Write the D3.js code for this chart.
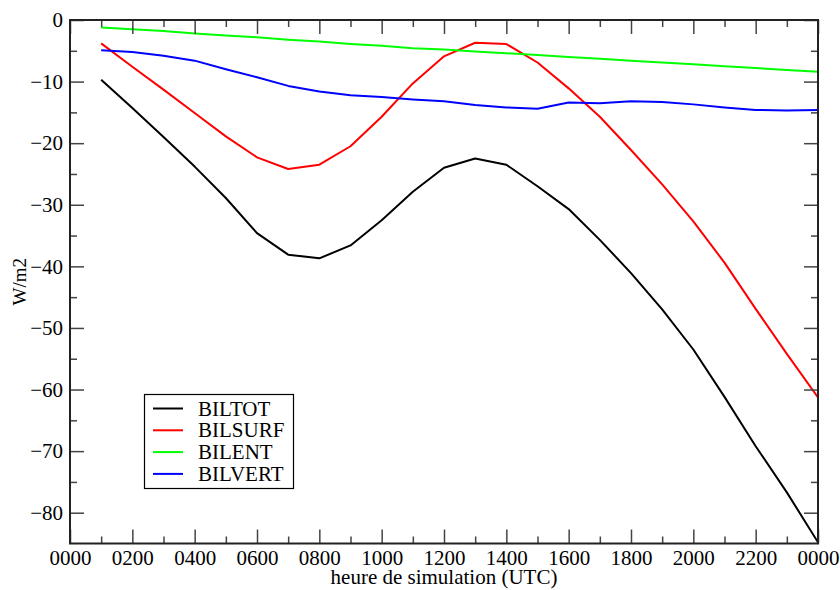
<!DOCTYPE html>
<html><head><meta charset="utf-8">
<script src="https://cdn.jsdelivr.net/npm/d3@7"></script>
<style>body{margin:0;background:#fff}svg{display:block}text{font-family:"Liberation Serif","Times New Roman",serif}</style>
</head><body><svg id="c" width="840" height="590"></svg>
<script>
const hours = [1,2,3,4,5,6,7,8,9,10,11,12,13,14,15,16,17,18,19,20,21,22,23,24];
const BILTOT = [-9.7,-14.3,-19.0,-23.8,-28.9,-34.6,-38.1,-38.7,-36.6,-32.5,-27.9,-24.0,-22.5,-23.5,-27.0,-30.7,-35.7,-41.1,-47.0,-53.5,-61.2,-69.2,-76.7,-84.8];
const BILSURF = [-3.8,-7.6,-11.3,-15.1,-18.9,-22.3,-24.2,-23.5,-20.5,-15.7,-10.3,-5.9,-3.7,-3.9,-6.9,-11.1,-15.7,-21.1,-26.7,-32.7,-39.4,-46.9,-54.2,-61.3];
const BILENT = [-1.2,-1.5,-1.8,-2.2,-2.5,-2.8,-3.2,-3.5,-3.9,-4.2,-4.6,-4.8,-5.1,-5.4,-5.7,-6.0,-6.3,-6.6,-6.9,-7.2,-7.5,-7.8,-8.1,-8.4];
const BILVERT = [-4.9,-5.2,-5.8,-6.6,-8.0,-9.3,-10.7,-11.6,-12.2,-12.5,-12.9,-13.2,-13.8,-14.2,-14.4,-13.4,-13.5,-13.2,-13.3,-13.7,-14.2,-14.6,-14.7,-14.6];
const seriesNames = ["BILTOT","BILSURF","BILENT","BILVERT"];
const seriesColors = ["#000000","#ff0000","#00ff00","#0000ff"];
const xTickValues = [0,2,4,6,8,10,12,14,16,18,20,22,24];
const xTickLabels = ["0000","0200","0400","0600","0800","1000","1200","1400","1600","1800","2000","2200","0000"];
const yTickValues = [0,-10,-20,-30,-40,-50,-60,-70,-80];
const xTitle = "heure de simulation (UTC)";
const yTitle = "W/m2";

const svg = d3.select("#c");
const L=70,R=818,T=20,B=543.5;
const x = d3.scaleLinear().domain([0,24]).range([L,R]);
const y = d3.scaleLinear().domain([-85,0]).range([B,T]);
const seriesData = [BILTOT,BILSURF,BILENT,BILVERT];

svg.append("defs").append("clipPath").attr("id","pc").append("rect")
  .attr("x",L).attr("y",T).attr("width",R-L).attr("height",B-T);

const line = d3.line().x((d,i)=>x(hours[i])).y(d=>y(d));
const g = svg.append("g").attr("clip-path","url(#pc)");
seriesData.forEach((s,k)=>{
  g.append("path").datum(s).attr("d",line).attr("fill","none")
   .attr("stroke",seriesColors[k]).attr("stroke-width",2).attr("stroke-linejoin","round");
});

const minorX = d3.range(1,24,2);
const minorY = d3.range(-5,-85,-10);
const tickCol="#444";
function ax(axisGen, tx, ty){
  const gg = svg.append("g").attr("transform",`translate(${tx},${ty})`).call(axisGen);
  gg.select(".domain").remove();
  gg.selectAll("line").attr("stroke",tickCol).attr("stroke-width",1.5);
  return gg;
}
const gb = ax(d3.axisBottom(x).tickValues(xTickValues).tickSize(-14).tickFormat((d,i)=>xTickLabels[i]), 0, B);
gb.selectAll("text").attr("y",21.5).attr("dy",0).attr("font-size",21).attr("fill","#000");
ax(d3.axisBottom(x).tickValues(minorX).tickSize(-7).tickFormat(""),0,B);
ax(d3.axisTop(x).tickValues(xTickValues).tickSize(-14).tickFormat(""),0,T);
ax(d3.axisTop(x).tickValues(minorX).tickSize(-7).tickFormat(""),0,T);
const gl = ax(d3.axisLeft(y).tickValues(yTickValues).tickSize(-14).tickFormat(d3.format("d")),L,0);
gl.selectAll("text").attr("x",-7).attr("font-size",21).attr("fill","#000");
ax(d3.axisLeft(y).tickValues(minorY).tickSize(-7).tickFormat(""),L,0);
ax(d3.axisRight(y).tickValues(yTickValues).tickSize(-14).tickFormat(""),R,0);
ax(d3.axisRight(y).tickValues(minorY).tickSize(-7).tickFormat(""),R,0);

svg.append("rect").attr("x",L).attr("y",T).attr("width",R-L).attr("height",B-T)
  .attr("fill","none").attr("stroke","#222").attr("stroke-width",2);

svg.append("text").attr("x",(L+R)/2).attr("y",584).attr("text-anchor","middle")
  .attr("font-size",21).text(xTitle);
svg.append("text").attr("transform",`translate(26,${(T+B)/2}) rotate(-90)`)
  .attr("text-anchor","middle").attr("font-size",19).text(yTitle);

const lg = svg.append("g");
lg.append("rect").attr("x",144.5).attr("y",394.5).attr("width",149).attr("height",94)
  .attr("fill","#fff").attr("stroke","#000").attr("stroke-width",1.2);
seriesNames.forEach((n,k)=>{
  const cy = 408.5 + k*21.8;
  lg.append("line").attr("x1",153).attr("x2",183).attr("y1",cy).attr("y2",cy)
    .attr("stroke",seriesColors[k]).attr("stroke-width",2);
  lg.append("text").attr("x",198).attr("y",cy+7).attr("font-size",21).text(n);
});
</script></body></html>
